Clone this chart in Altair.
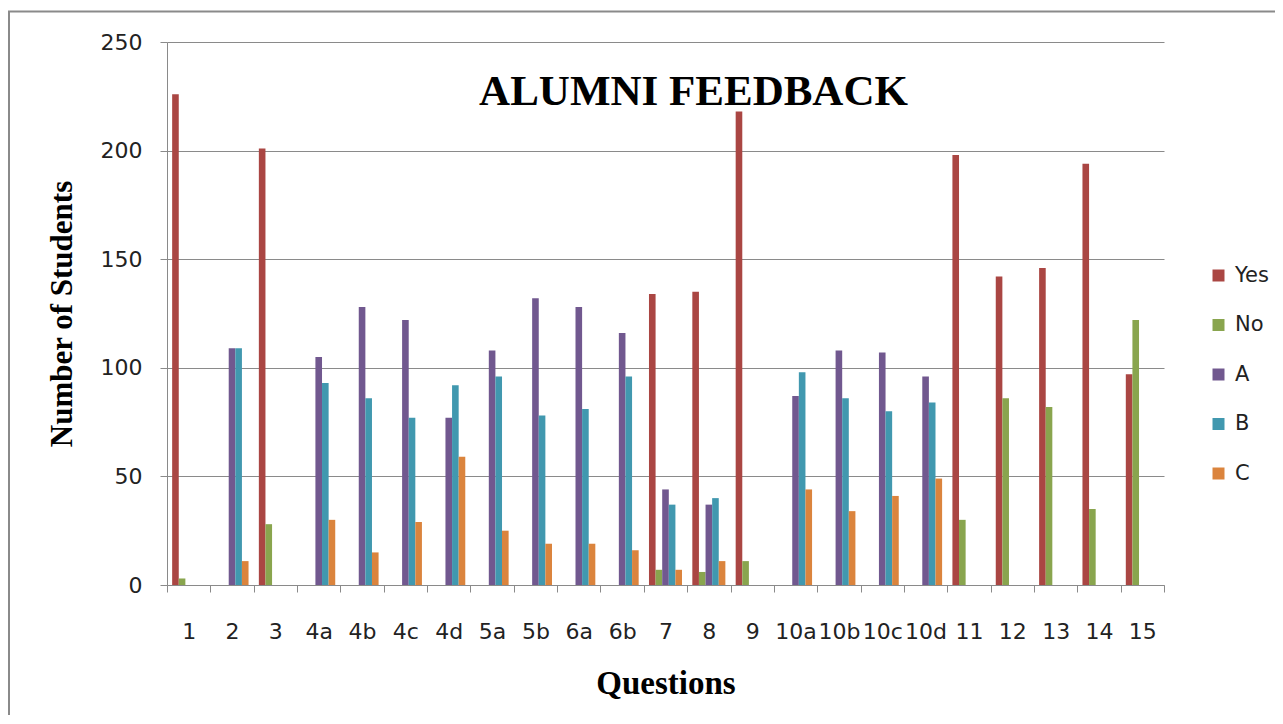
import altair as alt
import pandas as pd

questions = ["1", "2", "3", "4a", "4b", "4c", "4d", "5a", "5b", "6a", "6b", "7", "8", "9",
             "10a", "10b", "10c", "10d", "11", "12", "13", "14", "15"]
series = ["Yes", "No", "A", "B", "C"]
yes_vals = [226, 0, 201, 0, 0, 0, 0, 0, 0, 0, 0, 134, 135, 218, 0, 0, 0, 0, 198, 142, 146, 194, 97]
no_vals = [3, 0, 28, 0, 0, 0, 0, 0, 0, 0, 0, 7, 6, 11, 0, 0, 0, 0, 30, 86, 82, 35, 122]
a_vals = [0, 109, 0, 105, 128, 122, 77, 108, 132, 128, 116, 44, 37, 0, 87, 108, 107, 96, 0, 0, 0, 0, 0]
b_vals = [0, 109, 0, 93, 86, 77, 92, 96, 78, 81, 96, 37, 40, 0, 98, 86, 80, 84, 0, 0, 0, 0, 0]
c_vals = [0, 11, 0, 30, 15, 29, 59, 25, 19, 19, 16, 7, 11, 0, 44, 34, 41, 49, 0, 0, 0, 0, 0]
colors = ["#AA4643", "#89A54E", "#71588F", "#4198AF", "#DB843D"]

rows = []
for s, vals in zip(series, [yes_vals, no_vals, a_vals, b_vals, c_vals]):
    for q, v in zip(questions, vals):
        if v > 0:
            rows.append({"Question": q, "Series": s, "Students": v})
df = pd.DataFrame(rows)

W, H = 997, 543
GRAY = "#8a8a8a"

bars = alt.Chart(df).mark_bar().encode(
    x=alt.X("Question:N", sort=questions,
            scale=alt.Scale(domain=questions, paddingInner=0, paddingOuter=0),
            axis=alt.Axis(title="Questions", tickBand="extent", labelAngle=0, labelOverlap=False,
                          tickSize=7, tickColor=GRAY, domainColor=GRAY, grid=False,
                          labelFont="DejaVu Sans", labelFontSize=22, labelColor="#222",
                          labelPadding=29,
                          titleFont="Liberation Serif", titleFontSize=33, titleFontWeight="bold",
                          titleColor="black", titleX=W / 2, titleY=98,
                          titleBaseline="middle", titleAlign="center")),
    xOffset=alt.XOffset("Series:N", sort=series,
                        scale=alt.Scale(domain=series, paddingInner=0, paddingOuter=0.78)),
    y=alt.Y("Students:Q", scale=alt.Scale(domain=[0, 250]),
            axis=alt.Axis(title="Number of Students", values=[0, 50, 100, 150, 200, 250],
                          grid=True, gridColor=GRAY, domainColor=GRAY, tickColor=GRAY, tickSize=7,
                          labelFont="DejaVu Sans", labelFontSize=22, labelColor="#222",
                          labelPadding=18,
                          titleFont="Liberation Serif", titleFontSize=31, titleFontWeight="bold",
                          titleColor="black", titleX=-105, titleY=H / 2,
                          titleBaseline="middle", titleAlign="center", titleAngle=270)),
    color=alt.Color("Series:N", sort=series,
                    scale=alt.Scale(domain=series, range=colors),
                    legend=alt.Legend(title=None, orient="none", legendX=1041, legendY=223,
                                      symbolType="square", symbolSize=144, symbolStrokeWidth=0,
                                      labelFont="DejaVu Sans", labelFontSize=21, labelColor="#222",
                                      labelOffset=6, rowPadding=27.5, padding=0)),
)

one = alt.Data(values=[{"k": 0}])
left_line = alt.Chart(one).mark_rule(color=GRAY, strokeWidth=2).encode(
    x=alt.value(-158), y=alt.value(-30.5), y2=alt.value(H + 140))
top_line = alt.Chart(one).mark_rule(color=GRAY, strokeWidth=2).encode(
    x=alt.value(-159), x2=alt.value(W + 115), y=alt.value(-30.5))
title_text = alt.Chart(one).mark_text(
    text="ALUMNI FEEDBACK", font="Liberation Serif", fontSize=43, fontWeight="bold",
    color="black", align="center", baseline="middle").encode(
    x=alt.value(526.5), y=alt.value(50))

chart = alt.layer(bars, left_line, top_line, title_text).properties(
    width=W, height=H,
    autosize=alt.AutoSizeParams(type="none"),
    padding={"left": 159, "top": 34, "right": 111, "bottom": 130},
    background="white",
).configure_view(strokeWidth=0)

chart.save("out.html", embed_options={"renderer": "svg", "actions": False})
